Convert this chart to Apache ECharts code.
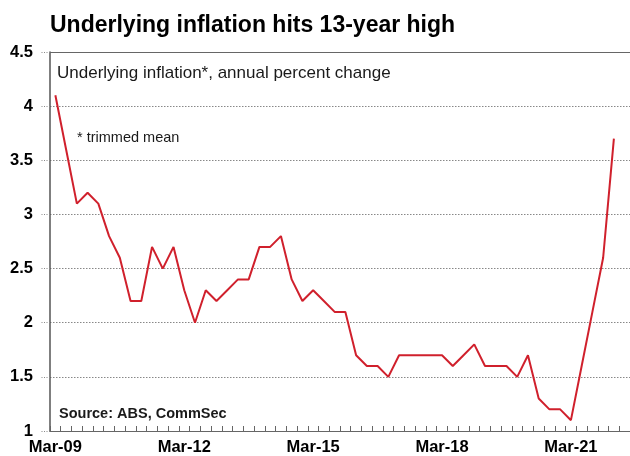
<!DOCTYPE html>
<html>
<head>
<meta charset="utf-8">
<script src="https://cdn.jsdelivr.net/npm/echarts@6/dist/echarts.min.js"></script>
<style>
html,body{margin:0;padding:0;background:#fff;}
#chart{width:630px;height:456px;}
</style>
</head>
<body>
<div id="chart"></div>
<script>
var categories = [
  'Mar-09','Jun-09','Sep-09','Dec-09',
  'Mar-10','Jun-10','Sep-10','Dec-10',
  'Mar-11','Jun-11','Sep-11','Dec-11',
  'Mar-12','Jun-12','Sep-12','Dec-12',
  'Mar-13','Jun-13','Sep-13','Dec-13',
  'Mar-14','Jun-14','Sep-14','Dec-14',
  'Mar-15','Jun-15','Sep-15','Dec-15',
  'Mar-16','Jun-16','Sep-16','Dec-16',
  'Mar-17','Jun-17','Sep-17','Dec-17',
  'Mar-18','Jun-18','Sep-18','Dec-18',
  'Mar-19','Jun-19','Sep-19','Dec-19',
  'Mar-20','Jun-20','Sep-20','Dec-20',
  'Mar-21','Jun-21','Sep-21','Dec-21',
  'Mar-22','Jun-22'
];
var underlyingInflation = [
  4.1, 3.6, 3.1, 3.2,
  3.1, 2.8, 2.6, 2.2,
  2.2, 2.7, 2.5, 2.7,
  2.3, 2.0, 2.3, 2.2,
  2.3, 2.4, 2.4, 2.7,
  2.7, 2.8, 2.4, 2.2,
  2.3, 2.2, 2.1, 2.1,
  1.7, 1.6, 1.6, 1.5,
  1.7, 1.7, 1.7, 1.7,
  1.7, 1.6, 1.7, 1.8,
  1.6, 1.6, 1.6, 1.5,
  1.7, 1.3, 1.2, 1.2,
  1.1, 1.6, 2.1, 2.6,
  3.7
];
var yMin = 1, yMax = 4.5, yStep = 0.5;
var titleText = 'Underlying inflation hits 13-year high';
var subtitleText = 'Underlying inflation*, annual percent change';
var noteText = '* trimmed mean';
var sourceText = 'Source: ABS, CommSec';

var FONT = "'Liberation Sans', Arial, sans-serif";
var chart = echarts.init(document.getElementById('chart'), null, {renderer: 'canvas'});
chart.setOption({
  animation: false,
  backgroundColor: '#fff',
  grid: {left: 50, right: -1, top: 52, bottom: 23, containLabel: false},
  xAxis: [{
    type: 'category',
    data: categories,
    boundaryGap: true,
    position: 'bottom',
    axisLine: {show: true, lineStyle: {color: '#666', width: 1}},
    axisTick: {show: true, inside: true, length: 5, interval: 0, lineStyle: {color: '#666'}},
    axisLabel: {interval: 11, margin: 8, color: '#000', fontFamily: FONT, fontWeight: 'bold', fontSize: 16.5},
    splitLine: {show: false}
  }, {
    type: 'category',
    data: categories,
    boundaryGap: true,
    position: 'top',
    axisLine: {show: true, onZero: false, lineStyle: {color: '#666', width: 1}},
    axisTick: {show: false},
    axisLabel: {show: false},
    splitLine: {show: false}
  }],
  yAxis: {
    type: 'value',
    min: yMin,
    max: yMax,
    interval: yStep,
    axisLine: {show: true, lineStyle: {color: '#555', width: 1.5}},
    axisTick: {show: true, length: 9, lineStyle: {color: '#888', type: [1, 1.5]}},
    axisLabel: {margin: 17, color: '#000', fontFamily: FONT, fontWeight: 'bold', fontSize: 16.5},
    splitLine: {show: true, lineStyle: {color: '#888', width: 1, type: [1.5, 1.5]}}
  },
  series: [{
    type: 'line',
    data: underlyingInflation,
    xAxisIndex: 0,
    symbol: 'none',
    lineStyle: {color: '#d0202c', width: 2},
    itemStyle: {color: '#d0202c'},
    z: 5
  }],
  graphic: [
    {type: 'text', left: 50, top: 14, style: {text: titleText, fill: '#000', font: 'bold 23px ' + FONT}},
    {type: 'text', x: 57, y: 73, style: {text: subtitleText, fill: '#1a1a1a', font: '17px ' + FONT, verticalAlign: 'middle'}},
    {type: 'text', x: 77, y: 138, style: {text: noteText, fill: '#1a1a1a', font: '14.5px ' + FONT, verticalAlign: 'middle'}},
    {type: 'text', x: 59, y: 414, style: {text: sourceText, fill: '#1a1a1a', font: 'bold 14.5px ' + FONT, verticalAlign: 'middle'}}
  ]
});
</script>
</body>
</html>
